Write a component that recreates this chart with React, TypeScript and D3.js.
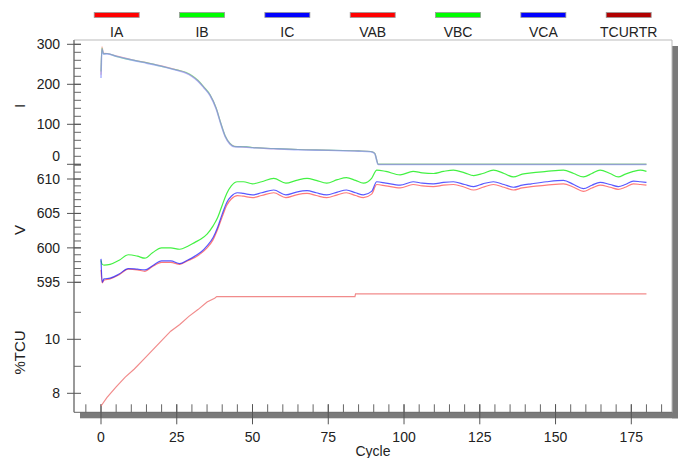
import React from 'react';
import * as d3 from 'd3';

// current (A) vs cycle
const cyclesI = [0, 0.3, 0.8, 2, 5, 10, 15, 20, 25, 28, 30, 32, 34, 36, 38, 39.5, 41, 42.5, 44, 46, 48, 50, 57, 65, 75, 85, 89, 90.3, 91.5, 100, 140, 180];
const IA = [224, 294, 278, 277, 271, 262, 254, 246, 236, 229, 221, 209, 192, 173, 140, 103, 70, 52, 45, 44, 43, 42, 39, 37, 35, 33.5, 32, 28, 0, 0, 0, 0];
const IB = [232, 291, 276, 277, 270, 261, 254, 245, 236, 230, 222, 210, 193, 174, 141, 104, 71, 53, 45, 44, 44, 42, 39.5, 37, 35.5, 33.5, 32, 28, 0.5, 0.5, 0.5, 0.5];
const IC = [216, 288, 276, 276, 270, 261, 253, 245, 235, 228, 220, 208, 191, 172, 139, 102, 69, 51, 44, 43.5, 43, 41.5, 39, 36.5, 35, 33, 31.5, 27, -0.5, -0.5, -0.5, -0.5];

// line voltages vs cycle
const cyclesV = [0, 0.4, 1, 3, 6, 9, 12, 14.5, 17, 20, 23, 26, 28.5, 31, 33, 35, 37, 38.5, 40, 41.5, 43, 45, 47, 50, 53, 57, 61, 64.5, 68, 71, 74.5, 78, 81, 84, 86.6, 89.3, 91, 94, 98.7, 103, 106, 109.7, 113, 116.3, 120, 123, 126, 129.5, 133, 136.1, 139, 142, 147, 152.6, 156, 159.2, 162, 164.7, 168, 170.7, 173, 175.7, 178, 180];
const VBC = [598.2, 597.6, 597.5, 597.6, 598.2, 599.0, 598.8, 598.5, 599.3, 600.0, 600.0, 599.8, 600.2, 600.8, 601.3, 602.0, 603.2, 604.4, 606.2, 607.9, 609.0, 609.6, 609.6, 609.3, 609.6, 610.1, 609.4, 609.8, 610.1, 609.8, 609.4, 609.9, 610.2, 609.8, 609.4, 610.1, 611.3, 611.1, 610.6, 611.1, 610.9, 610.8, 611.1, 611.3, 610.9, 610.5, 610.8, 611.3, 610.8, 610.3, 610.7, 610.9, 611.1, 611.3, 610.8, 610.3, 610.8, 611.3, 610.8, 610.3, 610.7, 611.1, 611.3, 611.1];
const VCA = [598.4, 595.0, 595.5, 595.6, 596.2, 597.0, 596.9, 596.8, 597.4, 598.1, 598.1, 597.7, 598.2, 598.8, 599.4, 600.3, 601.5, 603.0, 604.9, 606.6, 607.5, 608.0, 607.9, 607.7, 608.0, 608.4, 607.7, 608.1, 608.3, 608.0, 607.7, 608.1, 608.4, 608.0, 607.7, 608.2, 609.6, 609.4, 609.1, 609.6, 609.4, 609.3, 609.5, 609.6, 609.2, 608.9, 609.3, 609.6, 609.2, 608.8, 609.1, 609.3, 609.6, 609.8, 609.2, 608.6, 609.1, 609.5, 609.2, 608.9, 609.2, 609.7, 609.6, 609.5];
const VAB = [596.8, 594.9, 595.3, 595.5, 596.1, 596.9, 596.8, 596.6, 597.3, 597.9, 597.9, 597.6, 598.1, 598.6, 599.2, 600.0, 601.2, 602.7, 604.5, 606.2, 607.1, 607.6, 607.5, 607.3, 607.6, 608.0, 607.3, 607.7, 607.9, 607.6, 607.3, 607.7, 608.0, 607.6, 607.3, 607.8, 609.2, 609.0, 608.7, 609.2, 609.0, 608.9, 609.1, 609.2, 608.8, 608.4, 608.8, 609.2, 608.8, 608.4, 608.7, 608.9, 609.1, 609.3, 608.8, 608.2, 608.7, 609.1, 608.8, 608.5, 608.8, 609.3, 609.2, 609.1];

// TCU reference (%)
const cyclesT = [0, 2, 5, 8, 11, 14, 17, 20, 23, 26, 29, 32, 35, 37.5, 38.2, 83.8, 84, 180];
const TCURTR = [7.53, 7.85, 8.24, 8.6, 8.9, 9.25, 9.6, 9.95, 10.3, 10.55, 10.85, 11.1, 11.38, 11.52, 11.58, 11.58, 11.68, 11.68];

const legendNames = ['IA', 'IB', 'IC', 'VAB', 'VBC', 'VCA', 'TCURTR'];
const legendColors = ['#ff0000', '#00ff00', '#0000ff', '#ff0000', '#00ff00', '#0000ff', '#b00000'];

const xTicks = [0, 25, 50, 75, 100, 125, 150, 175];
const iTicks = [0, 100, 200, 300];
const vTicks = [595, 600, 605, 610];
const tTicks = [8, 10];

const font = '"Liberation Sans", Arial, sans-serif';
const left = 74, right = 672, top = 40, bottom = 412.3;

const x = d3.scaleLinear().domain([0, 175]).range([101, 631.3]);
const yI = d3.scaleLinear().domain([0, 300]).range([164.3, 44.3]);
const yV = d3.scaleLinear().domain([595, 610]).range([282.3, 179]);
const yT = d3.scaleLinear().domain([8, 10]).range([393.3, 339.3]);
const legendX = d3.scalePoint().domain(legendNames).range([116.7, 628.7]);

const path = (xs: number[], ys: number[], y: d3.ScaleLinear<number, number>, curve: d3.CurveFactory = d3.curveMonotoneX) =>
    d3.line<number>().x((d, i) => x(xs[i])).y(d => y(d)).curve(curve)(ys) || '';

const YTicks = ({ scale, major, minor, nudge = {} }: any) => (
    <g>
        {minor.map((v: number) => (
            <line key={'m' + v} x1={left} x2={left + 7} y1={scale(v)} y2={scale(v)} stroke="#666" />
        ))}
        {major.map((v: number) => (
            <g key={v}>
                <line x1={left - 7} x2={left + 7} y1={scale(v)} y2={scale(v)} stroke="#555" />
                <text x={60} y={scale(v) + (nudge[v] || 0)} dy="0.35em" textAnchor="end" fontSize={14} fill="#222">{v}</text>
            </g>
        ))}
    </g>
);

const App = () => {
    return (
        <svg width={680} height={458} style={{ position: 'absolute', left: 0, top: 0, background: '#fff' }} fontFamily={font}>
            {/* legend */}
            {legendNames.map((n, i) => (
                <g key={n}>
                    <rect x={legendX(n)! - 22.5} y={12.5} width={45} height={5} fill={legendColors[i]} stroke="#999" strokeWidth={0.8} />
                    <text x={legendX(n)} y={37} textAnchor="middle" fontSize={14} fill="#222">{n}</text>
                </g>
            ))}

            {/* frame + shadow */}
            <rect x={right} y={46} width={6} height={bottom - 46 + 6} fill="#7a7a7a" />
            <rect x={80} y={bottom} width={right - 80 + 6} height={6} fill="#7a7a7a" />
            <line x1={left} x2={right} y1={top} y2={top} stroke="#bbb" />
            <line x1={right} x2={right} y1={top} y2={bottom} stroke="#bbb" />
            <line x1={left} x2={left} y1={top} y2={bottom} stroke="#999" strokeWidth={2} />
            <line x1={left} x2={right} y1={bottom} y2={bottom} stroke="#666" />

            {/* y axes */}
            <YTicks scale={yI} major={iTicks} minor={d3.range(0, 301, 20)} nudge={{ 0: -8 }} />
            <YTicks scale={yV} major={vTicks} minor={d3.range(595, 613, 1)} />
            <YTicks scale={yT} major={tTicks} minor={[9, 11]} />

            <text transform="translate(25,106) rotate(-90)" textAnchor="middle" fontSize={15} fill="#222">I</text>
            <text transform="translate(25,230) rotate(-90)" textAnchor="middle" fontSize={15} fill="#222">V</text>
            <text transform="translate(25,352.5) rotate(-90)" textAnchor="middle" fontSize={15} fill="#222">%TCU</text>

            {/* x axis */}
            {d3.range(-5, 190, 5).map(v => (
                <line key={'xm' + v} x1={x(v)} x2={x(v)} y1={bottom - 8} y2={bottom} stroke="#666" />
            ))}
            {xTicks.map(v => (
                <g key={'x' + v}>
                    <line x1={x(v)} x2={x(v)} y1={bottom - 8} y2={bottom + 12} stroke="#555" />
                    <text x={x(v)} y={442} textAnchor="middle" fontSize={14} fill="#222">{v}</text>
                </g>
            ))}
            <text x={(left + right) / 2} y={456} textAnchor="middle" fontSize={14} fill="#222">Cycle</text>

            {/* series */}
            <g fill="none" strokeWidth={1.2}>
                <path d={path(cyclesI, IA, yI)} stroke="#ff3333" strokeOpacity={0.35} />
                <path d={path(cyclesI, IB, yI)} stroke="#22dd22" strokeOpacity={0.45} />
                <path d={path(cyclesI, IC, yI)} stroke="#7a88ff" strokeOpacity={0.6} strokeWidth={1.6} />
                <path d={path(cyclesV, VBC, yV)} stroke="#22ee22" strokeOpacity={0.85} />
                <path d={path(cyclesV, VAB, yV)} stroke="#ff3333" strokeOpacity={0.65} />
                <path d={path(cyclesV, VCA, yV)} stroke="#2222ff" strokeOpacity={0.75} />
                <path d={path(cyclesT, TCURTR, yT, d3.curveLinear)} stroke="#e77" strokeOpacity={0.85} />
            </g>
        </svg>
    );
};

export default App;
